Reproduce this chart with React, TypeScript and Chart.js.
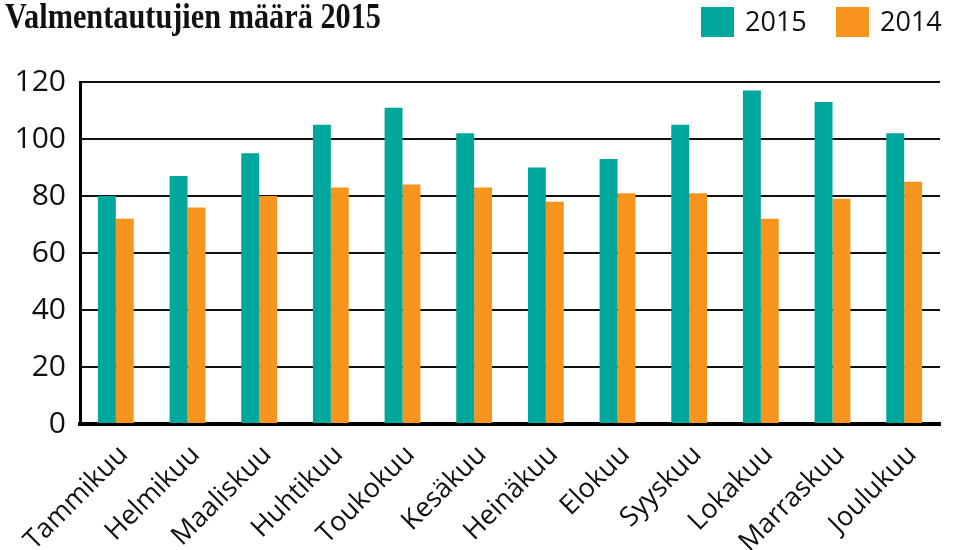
import React, { useEffect, useRef } from "react";
import { Chart, registerables } from "chart.js";

Chart.register(...registerables);

const TITLE = "Valmentautujien määrä 2015";
const MONTHS = ["Tammikuu", "Helmikuu", "Maaliskuu", "Huhtikuu", "Toukokuu", "Kesäkuu", "Heinäkuu", "Elokuu", "Syyskuu", "Lokakuu", "Marraskuu", "Joulukuu"];
const VALUES_2015 = [80, 87, 95, 105, 111, 102, 90, 93, 105, 117, 113, 102];
const VALUES_2014 = [72, 76, 80, 83, 84, 83, 78, 81, 81, 72, 79, 85];
const SERIES_LABELS = ["2015", "2014"];
const COLORS = ["#00A79D", "#F7941D"];

const headerPlugin = {
  id: "header",
  afterDraw(chart: any) {
    const ctx = chart.ctx;
    ctx.save();
    ctx.font = "bold 35px 'Liberation Serif'";
    ctx.fillStyle = "#111";
    ctx.textBaseline = "alphabetic";
    ctx.textAlign = "left";
    const w = ctx.measureText(TITLE).width;
    const target = 376;
    ctx.translate(5, 28);
    ctx.scale(target / w, 1);
    ctx.fillText(TITLE, 0, 0);
    ctx.restore();

    ctx.save();
    ctx.font = "27px 'Open Sans'";
    ctx.textBaseline = "middle";
    ctx.textAlign = "left";
    const items = chart.data.datasets.map((d: any) => ({ label: d.label, color: d.backgroundColor }));
    const pos = [701, 836];
    items.forEach((it: any, i: number) => {
      ctx.fillStyle = it.color;
      ctx.fillRect(pos[i], 7, 33, 30);
      ctx.fillStyle = "#111";
      ctx.fillText(it.label, pos[i] + 44, 23);
    });
    ctx.restore();
  },
};

export default function App() {
  const ref = useRef<HTMLCanvasElement>(null);
  useEffect(() => {
    document.body.style.margin = "0";
    const chart = new Chart(ref.current!, {
      type: "bar",
      data: {
        labels: MONTHS,
        datasets: [
          { label: SERIES_LABELS[0], data: VALUES_2015, backgroundColor: COLORS[0], borderWidth: 0 },
          { label: SERIES_LABELS[1], data: VALUES_2014, backgroundColor: COLORS[1], borderWidth: 0 },
        ],
      },
      options: {
        animation: false,
        responsive: false,
        maintainAspectRatio: false,
        layout: { padding: { top: 82, right: 14, left: 0, bottom: 0 } },
        datasets: { bar: { categoryPercentage: 0.5, barPercentage: 1 } },
        plugins: { legend: { display: false }, title: { display: false }, tooltip: { enabled: false } },
        scales: {
          x: {
            grid: { display: false, drawTicks: false },
            border: { display: true, color: "#000", width: 4 },
            ticks: {
              color: "#111",
              font: { family: "'Open Sans'", size: 27 },
              maxRotation: 45,
              minRotation: 45,
              padding: 15,
              labelOffset: 8,
              autoSkip: false,
            },
            afterFit(scale: any) {
              scale.height = 126;
              scale.paddingLeft = 0;
              scale.paddingRight = 0;
            },
          },
          y: {
            min: 0,
            max: 120,
            ticks: {
              stepSize: 20,
              color: "#111",
              font: { family: "'Open Sans'", size: 30 },
              padding: 14,
            },
            grid: { color: "#111", lineWidth: 2, drawTicks: false },
            border: { display: true, color: "#000", width: 3 },
            afterFit(scale: any) {
              scale.width = 80;
            },
          },
        },
      },
      plugins: [headerPlugin],
    });
    return () => chart.destroy();
  }, []);
  return (
    <div style={{ position: "fixed", left: 0, top: 0, width: 954, height: 550, background: "#fff" }}>
      <canvas ref={ref} width={954} height={550} style={{ width: 954, height: 550 }} />
    </div>
  );
}
